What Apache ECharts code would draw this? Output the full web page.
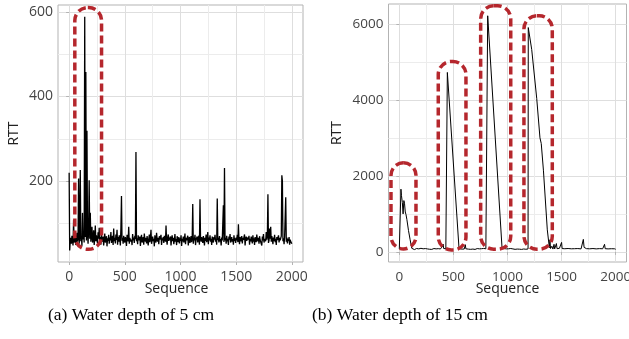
<!DOCTYPE html>
<html><head><meta charset="utf-8">
<script src="https://cdn.jsdelivr.net/npm/echarts@6/dist/echarts.min.js"></script>
<style>html,body{margin:0;padding:0;background:#fff}#c{width:629px;height:339px}</style>
</head><body><div id="c"></div>
<script>
// (a) RTT at sequence 0, 5, 10, ..., 2000
const seqStepA = 5;
const rttA = [
220,36,58,66,52,71,60,48,108,55,63,74,49,62,78,57,66,206,52,73,
226,58,70,47,125,62,81,55,588,68,458,60,319,75,52,88,202,64,125,57,
70,92,55,63,84,49,66,95,58,72,61,53,79,64,90,56,68,50,74,62,
57,69,48,63,76,55,61,70,46,65,59,73,52,67,60,80,54,62,71,49,
88,58,66,53,74,61,85,50,68,57,72,63,48,90,165,59,66,52,71,60,
55,68,61,47,73,64,58,92,52,66,70,57,62,49,75,60,67,54,71,63,
269,58,65,51,72,60,56,69,47,64,73,55,61,68,50,76,62,57,66,53,
70,59,48,63,74,56,67,85,52,61,69,58,64,46,72,60,55,78,63,57,
66,51,70,62,58,73,49,65,60,68,54,71,63,57,95,61,50,67,74,59,
62,55,69,48,64,72,58,66,51,60,75,57,63,49,70,61,56,68,53,65,
59,72,47,64,58,69,55,62,76,51,66,60,57,71,48,63,68,54,61,70,
56,64,146,52,67,60,73,49,62,58,69,55,65,71,50,157,63,57,68,61,
54,70,62,48,66,59,74,56,63,80,51,67,60,72,57,64,49,69,61,55,
68,62,73,57,64,50,159,61,66,55,70,58,63,48,67,60,62,143,56,231,
60,66,52,71,58,64,49,69,62,75,55,61,68,57,63,50,72,59,65,54,
67,60,73,56,98,62,51,68,64,58,70,53,66,61,57,74,48,63,69,59,
55,67,62,71,50,64,58,69,60,53,72,57,65,49,68,61,56,74,63,58,
66,52,70,61,57,64,48,69,60,75,55,63,67,58,80,62,71,169,54,60,
88,64,92,57,70,62,51,67,59,73,56,64,49,68,61,58,72,55,66,60,
63,70,214,200,58,65,51,69,66,162,57,67,53,64,59,68,50,62,57,55,
52
];
// (b) sequence / RTT pairs
const seqB = [0,5,10,15,20,28,35,42,48,55,62,70,85,100,115,
120,130,140,150,160,170,180,190,200,210,220,230,240,250,260,270,280,290,300,310,320,330,340,350,360,370,380,390,400,405,410,420,430,440,444,
552,560,570,580,590,600,610,615,620,630,640,650,660,670,680,690,700,710,720,730,740,750,760,770,780,790,800,810,817,
950,960,970,980,990,1000,1010,1020,1030,1040,1050,1060,1070,1080,1090,1100,1110,1120,1130,1140,1150,1160,1170,1180,1190,1192,
1224,1270,1300,1312,1332,1368,1387,1392,1398,1410,1420,1430,1436,1445,1452,1458,1470,1480,1490,1500,1505,1515,1530,1545,1560,1575,1590,1605,1620,1635,1650,1665,1680,1695,1701,1708,1715,1730,1745,1760,1775,1790,1805,1820,1835,1850,1865,1880,1892,1897,1903,1915,1930,1945,1960,1975,1990,2000];
const rttB = [75,90,85,1650,1480,1300,1000,1350,1280,1050,980,850,560,320,95,
70,85,62,78,90,66,80,72,95,68,82,74,88,65,79,92,70,84,67,76,89,71,80,64,86,73,78,95,150,205,90,72,84,78,4720,
85,70,82,74,88,76,190,82,70,85,73,80,68,90,75,83,66,79,88,72,81,69,85,77,92,70,82,75,6210,
85,72,88,74,80,67,83,76,90,71,79,86,68,82,75,88,72,80,66,84,77,91,70,82,78,5900,
5320,4040,3000,2850,2150,580,110,320,90,150,75,200,80,110,220,85,78,95,72,250,88,76,84,70,90,73,82,68,85,76,88,70,80,95,330,120,78,86,70,82,75,89,68,80,74,87,71,83,90,200,85,72,80,68,84,74,82,70];
const xTicks = [0,500,1000,1500,2000];
const xMinor = [250,750,1250,1750];
const yTicksA = [200,400,600];
const yMinorA = [100,300,500];
const yTicksB = [0,2000,4000,6000];
const yMinorB = [1000,3000,5000];
// highlighted regions [x0, x1, y0, y1] in data units
const boxesA = [[51,291,39,610]];
const boxesB = [[-77,154,79,2342],[360,616,53,5008],[752,1030,71,6474],[1152,1414,71,6210]];
const captions = ['(a) Water depth of 5 cm','(b) Water depth of 15 cm'];
const xTitle = 'Sequence';

const FONT = 'Open Sans';
const gridCol = '#dedede', borderCol = '#b3b3b3', labCol = '#444';

function majorAxis(gridIndex, min, max, ticks, name, nameGap, isY, fs) {
  return {
    type:'value', gridIndex, min, max, name, nameLocation:'middle', nameGap,
    position: isY ? 'left' : 'bottom',
    nameTextStyle:{fontFamily:FONT, fontSize:14, color:'#222'},
    axisLine:{show:false},
    axisTick:{show:true, length:3, lineStyle:{color:borderCol, width:1}, customValues:ticks},
    axisLabel:{show:true, customValues:ticks, fontFamily:FONT, fontSize:fs, color:labCol, margin:isY?5:8,
      formatter: v => String(v)},
    splitLine:{show:true, lineStyle:{color:gridCol, width:1}},
    minorSplitLine:{show:false}
  };
}
function minorAxis(gridIndex, min, max, ticks, isY) {
  return {
    type:'value', gridIndex, min, max, show:true,
    position: isY ? 'right' : 'top',
    axisLine:{show:false},
    axisTick:{show:false, customValues:ticks},
    axisLabel:{show:false, customValues:ticks},
    splitLine:{show:true, lineStyle:{color:'#ececec', width:1}}
  };
}

const chart = echarts.init(document.getElementById('c'), null, {renderer:'canvas'});
const option = {
  animation:false,
  backgroundColor:'#fff',
  grid:[
    {left:58, top:5, width:245, height:257, show:true, borderColor:borderCol, borderWidth:1, containLabel:false, outerBoundsMode:'none'},
    {left:388.5, top:4, width:238, height:258, show:true, borderColor:borderCol, borderWidth:1, containLabel:false, outerBoundsMode:'none'}
  ],
  xAxis:[
    minorAxis(0,-100,2100,xMinor,false),
    majorAxis(0,-100,2100,xTicks,'',27,false,14),
    minorAxis(1,-100,2100,xMinor,false),
    majorAxis(1,-100,2100,xTicks,'',27,false,13.5)
  ],
  yAxis:[
    minorAxis(0,9,616,yMinorA,true),
    majorAxis(0,9,616,yTicksA,'RTT',37,true,14),
    minorAxis(1,-265,6520,yMinorB,true),
    majorAxis(1,-265,6520,yTicksB,'RTT',44,true,13.5)
  ],
  series:[
    {type:'line', xAxisIndex:1, yAxisIndex:1, showSymbol:false, symbol:'none',
     lineStyle:{color:'#000', width:1.3}, data: rttA.map((v,i)=>[i*seqStepA, v])},
    {type:'line', xAxisIndex:3, yAxisIndex:3, showSymbol:false, symbol:'none',
     lineStyle:{color:'#000', width:1}, data: seqB.map((s,i)=>[s, rttB[i]])}
  ]
};
chart.setOption(option);

function boxGraphics(boxes, xi, yi) {
  return boxes.map(b => {
    const p0 = chart.convertToPixel({xAxisIndex:xi, yAxisIndex:yi}, [b[0], b[3]]);
    const p1 = chart.convertToPixel({xAxisIndex:xi, yAxisIndex:yi}, [b[1], b[2]]);
    const w = p1[0]-p0[0], h = p1[1]-p0[1];
    return {type:'rect', z:100, shape:{x:p0[0], y:p0[1], width:w, height:h, r:Math.min(13, w/2)},
      style:{fill:'none', stroke:'#b5272d', lineWidth:3.5, lineDash:[8,4]}};
  });
}
const g = [].concat(boxGraphics(boxesA,1,1), boxGraphics(boxesB,3,3));
[1,3].forEach((ai, k) => {
  const cx = chart.convertToPixel({xAxisIndex:ai}, 1000) - (k === 0 ? 4 : 0);
  g.push({type:'text', x:cx, y:289, style:{text:xTitle, font:'14px "Open Sans"', fill:'#222', align:'center', verticalAlign:'middle'}});
});
g.push({type:'text', x:131, y:315, style:{text:captions[0], font:'17.5px "Liberation Serif"', fill:'#000', align:'center', verticalAlign:'middle'}});
g.push({type:'text', x:400, y:315, style:{text:captions[1], font:'17.5px "Liberation Serif"', fill:'#000', align:'center', verticalAlign:'middle'}});
chart.setOption({graphic:g});
</script></body></html>
